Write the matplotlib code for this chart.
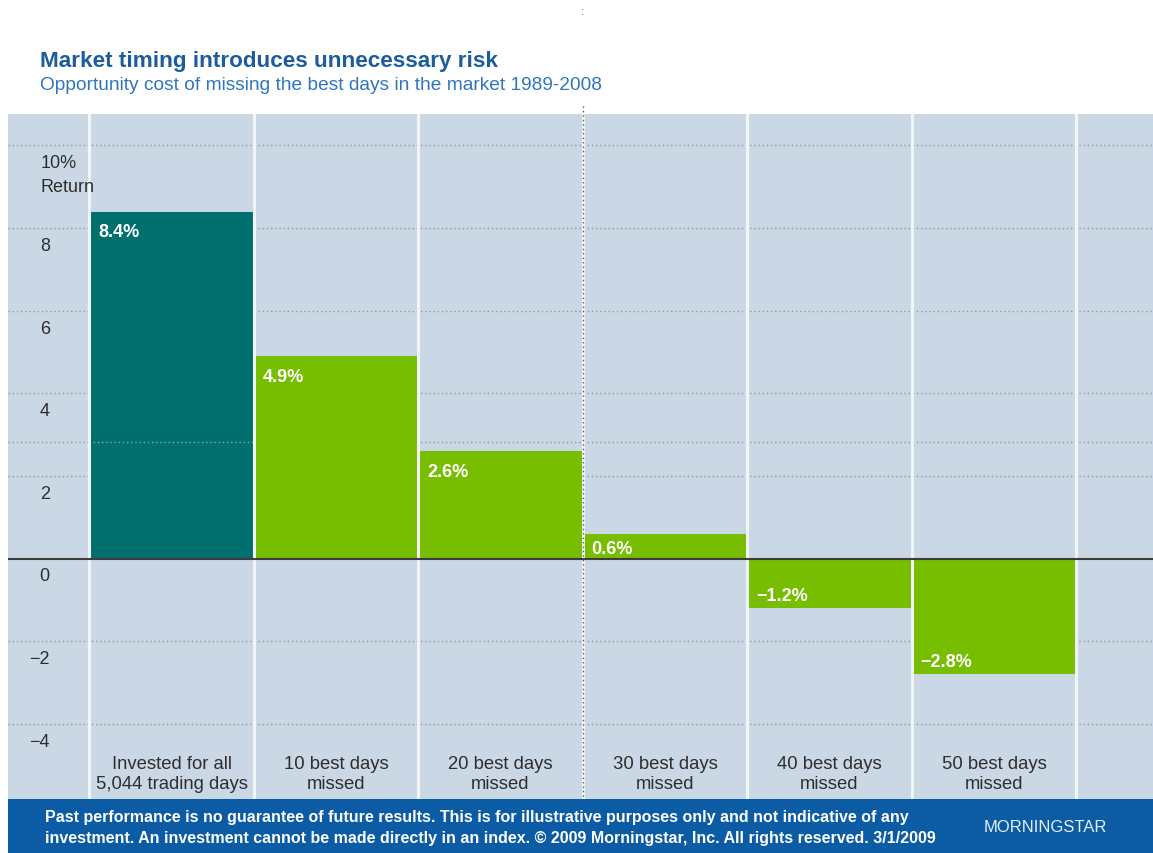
import matplotlib
matplotlib.use("Agg")
import matplotlib.pyplot as plt
from matplotlib.patches import Rectangle

plt.rcParams["font.family"] = ["Liberation Sans", "DejaVu Sans"]

title = "Market timing introduces unnecessary risk"
subtitle = "Opportunity cost of missing the best days in the market 1989-2008"

categories = [
    "Invested for all\n5,044 trading days",
    "10 best days\nmissed",
    "20 best days\nmissed",
    "30 best days\nmissed",
    "40 best days\nmissed",
    "50 best days\nmissed",
]
returns = [8.4, 4.9, 2.6, 0.6, -1.2, -2.8]
value_labels = ["8.4%", "4.9%", "2.6%", "0.6%", "\u22121.2%", "\u22122.8%"]

grid_values = [-4, -2, 2, 4, 6, 8, 10]
tick_labels = ["\u22124", "\u22122", "2", "4", "6", "8", "10%"]
zero_label = "0"

footer_lines = [
    "Past performance is no guarantee of future results. This is for illustrative purposes only and not indicative of any",
    "investment. An investment cannot be made directly in an index. \u00a9 2009 Morningstar, Inc. All rights reserved. 3/1/2009",
]

PANEL = "#cad8e6"
TEAL = "#00706f"
GREEN = "#77bd00"
NAVY = "#0b5ca4"
TITLE_BLUE = "#1d5d9b"
SUB_BLUE = "#2f76bf"
GRID = "#8f969e"
TEXT = "#2e2e2e"

W, H = 1153, 854
fig = plt.figure(figsize=(W / 100, H / 100), dpi=100)
fig.patch.set_facecolor("white")

# panel spans x 8..1153 px, y 115..800 px
ax = fig.add_axes([8 / W, 54 / H, 1145 / W, 685 / H])
ax.set_facecolor(PANEL)
ax.set_xlim(-0.994, 5.967)
ax.set_ylim(-5.82, 10.76)
for s in ax.spines.values():
    s.set_visible(False)
ax.set_xticks([])
ax.set_yticks([])

# dotted gridlines behind bars
for v in grid_values:
    ax.axhline(v, color=GRID, lw=1.0, ls=(0, (1, 2)), zorder=1)
ax.axhline(2.81, color=GRID, lw=1.0, ls=(0, (1, 2)), zorder=1)

x = list(range(len(categories)))
colors = [TEAL] + [GREEN] * (len(categories) - 1)
ax.bar(x, returns, width=1.0, color=colors, zorder=2, linewidth=0)

# stray dotted line visible over the first bar
ax.hlines(2.81, -0.5, 0.5, color="#8fa6aa", lw=1.0, ls=(0, (1, 2)), zorder=3)

# column separators
for b in [i - 0.5 for i in range(len(categories) + 1)]:
    ax.axvline(b, color="#f2f5f8", lw=2.2, zorder=3)

# zero line
ax.axhline(0, color="#3c3c3c", lw=1.5, zorder=4)

# dotted divider that runs past the panel
ax.plot([2.5, 2.5], [10.96, -5.94], color="#555555", lw=1.0, ls=(0, (1, 2.2)),
        zorder=5, clip_on=False)
ax.text(2.5, 13.25, ":", color="#555555", fontsize=8, ha="center", va="center",
        clip_on=False)

# bar value labels
for i, (v, lab) in enumerate(zip(returns, value_labels)):
    h_px = abs(v) * 41.3
    if v >= 0:
        off = -min(20, h_px * 0.6)
    else:
        off = 13
    ax.annotate(lab, xy=(i - 0.5, v), xytext=(9, off), textcoords="offset pixels",
                color="white", fontsize=13, fontweight="bold", ha="left", va="center",
                zorder=6)

# category labels
for i, c in enumerate(categories):
    ax.text(i, -5.2, c, ha="center", va="center", fontsize=13.3, color=TEXT,
            linespacing=1.22, zorder=6)

# y labels placed under their gridlines
for v, lab in zip(grid_values, tick_labels):
    if lab.endswith("%"):
        ax.text(-0.795, v - 0.42, lab, ha="left", va="center", fontsize=13, color=TEXT)
        ax.text(-0.795, v - 1.0, "Return", ha="left", va="center", fontsize=13, color=TEXT)
    else:
        ax.text(-0.74, v - 0.42, lab, ha="right", va="center", fontsize=13, color=TEXT)
ax.text(-0.74, -0.42, zero_label, ha="right", va="center", fontsize=13, color=TEXT)

# titles
fig.text(40 / W, 1 - 62 / H, title, fontsize=16.2, fontweight="bold", color=TITLE_BLUE,
         ha="left", va="center")
fig.text(40 / W, 1 - 86 / H, subtitle, fontsize=13.8, color=SUB_BLUE,
         ha="left", va="center")

# footer band
fig.patches.append(Rectangle((8 / W, 0), 1 - 8 / W, 54 / H, transform=fig.transFigure,
                             facecolor=NAVY, edgecolor="none", zorder=0))
fig.text(45 / W, 1 - 818 / H, footer_lines[0], fontsize=11.5, fontweight="bold",
         color="white", ha="left", va="center")
fig.text(45 / W, 1 - 839 / H, footer_lines[1], fontsize=11.5, fontweight="bold",
         color="white", ha="left", va="center")
fig.text(1045 / W, 1 - 828 / H, "MORNINGSTAR", fontsize=12,
         color="#e8eef6", ha="center", va="center")

fig.savefig("out.png", dpi=100, facecolor="white")
